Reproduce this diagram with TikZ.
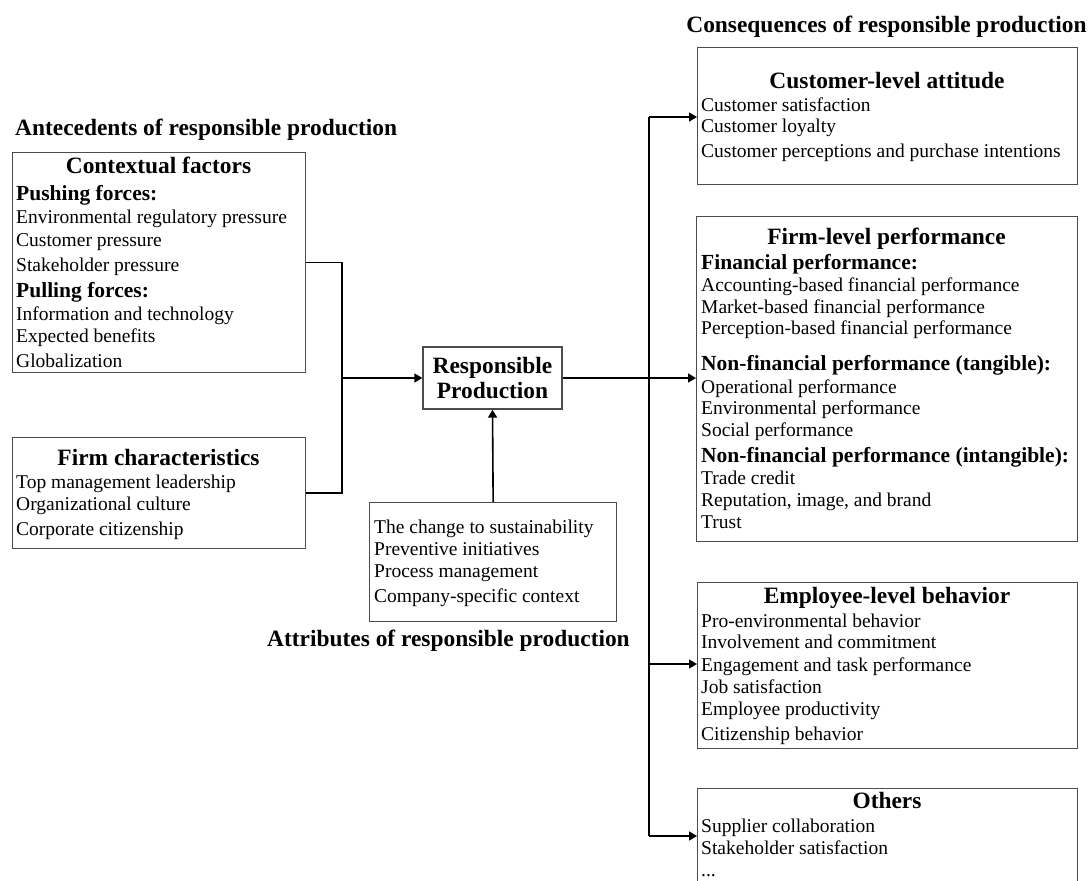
\documentclass[tikz,border=0pt]{standalone}
\usepackage{fontspec}
\setmainfont{Liberation Serif}
\usetikzlibrary{arrows.meta}
\newcommand{\bodyfs}{\fontsize{19.5bp}{23bp}\selectfont}
\newcommand{\subfs}{\fontsize{21.5bp}{25bp}\selectfont\bfseries}
\newcommand{\ttlfs}{\fontsize{23.4bp}{25bp}\selectfont\bfseries}
\begin{document}
\begin{tikzpicture}[x=1bp,y=-1bp,
  boxx/.style={draw=black!70, line width=1.3bp, inner sep=0pt, anchor=north west},
  itm/.style={anchor=base west, inner sep=0pt, font=\bodyfs},
  sub/.style={anchor=base west, inner sep=0pt, font=\subfs},
  ttl/.style={anchor=base, inner sep=0pt, font=\ttlfs},
  conn/.style={line width=1.6bp, draw=black},
  arr/.style={conn, -{Triangle[length=8bp,width=9bp]}}]
\clip (0,0) rectangle (1092,881);
\useasboundingbox (0,0) rectangle (1092,881);

% ---------- section titles ----------
\node[ttl] (hcons) at (886.5,32) {Consequences of responsible production};
\node[ttl, anchor=base west] (hante) at (15,135) {Antecedents of responsible production};
\node[ttl] (hattr) at (448.5,646) {Attributes of responsible production};

% ---------- left boxes ----------
\node[boxx, minimum width=293bp, minimum height=220bp] (ctx) at (12,152) {};
\node[ttl] (ctxT) at (158.5,173) {Contextual factors};
\node[sub] (ctx1) at (16,200) {Pushing forces:};
\node[itm] (ctx2) at (16,223) {Environmental regulatory pressure};
\node[itm] (ctx3) at (16,246) {Customer pressure};
\node[itm] (ctx4) at (16,271) {Stakeholder pressure};
\node[sub] (ctx5) at (16,297) {Pulling forces:};
\node[itm] (ctx6) at (16,320) {Information and technology};
\node[itm] (ctx7) at (16,342) {Expected benefits};
\node[itm] (ctx8) at (16,367) {Globalization};

\node[boxx, minimum width=293bp, minimum height=111bp] (fc) at (12,437) {};
\node[ttl] (fcT) at (158.5,465) {Firm characteristics};
\node[itm] (fc1) at (16,488) {Top management leadership};
\node[itm] (fc2) at (16,510) {Organizational culture};
\node[itm] (fc3) at (16,535) {Corporate citizenship};

% ---------- centre ----------
\node[draw=black!70, line width=1.3bp, inner sep=0pt, minimum width=139bp, minimum height=62bp,
      align=center, font=\ttlfs] (rp) at (492.5,378) {Responsible\\Production};

\node[boxx, minimum width=247bp, minimum height=119bp] (attr) at (369,502) {};
\node[itm] (at1) at (374,533) {The change to sustainability};
\node[itm] (at2) at (374,555) {Preventive initiatives};
\node[itm] (at3) at (374,577) {Process management};
\node[itm] (at4) at (374,602) {Company-specific context};

% ---------- right boxes ----------
\node[boxx, minimum width=380bp, minimum height=137bp] (cust) at (697,47) {};
\node[ttl] (custT) at (887,88) {Customer-level attitude};
\node[itm] (cu1) at (701,111) {Customer satisfaction};
\node[itm] (cu2) at (701,132) {Customer loyalty};
\node[itm] (cu3) at (701,157) {Customer perceptions and purchase intentions};

\node[boxx, minimum width=381bp, minimum height=325bp] (firm) at (696,216) {};
\node[ttl] (firmT) at (886.5,244) {Firm-level performance};
\node[sub] (fi1) at (701,269) {Financial performance:};
\node[itm] (fi2) at (701,291) {Accounting-based financial performance};
\node[itm] (fi3) at (701,313) {Market-based financial performance};
\node[itm] (fi4) at (701,334) {Perception-based financial performance};
\node[sub] (fi5) at (701,370) {Non-financial performance (tangible):};
\node[itm] (fi6) at (701,393) {Operational performance};
\node[itm] (fi7) at (701,414) {Environmental performance};
\node[itm] (fi8) at (701,436) {Social performance};
\node[sub] (fi9) at (701,462) {Non-financial performance (intangible):};
\node[itm] (fi10) at (701,484) {Trade credit};
\node[itm] (fi11) at (701,506) {Reputation, image, and brand};
\node[itm] (fi12) at (701,528) {Trust};

\node[boxx, minimum width=380bp, minimum height=166bp] (emp) at (697,582) {};
\node[ttl] (empT) at (887,603) {Employee-level behavior};
\node[itm] (em1) at (701,627) {Pro-environmental behavior};
\node[itm] (em2) at (701,648) {Involvement and commitment};
\node[itm] (em3) at (701,671) {Engagement and task performance};
\node[itm] (em4) at (701,693) {Job satisfaction};
\node[itm] (em5) at (701,715) {Employee productivity};
\node[itm] (em6) at (701,740) {Citizenship behavior};

\node[boxx, minimum width=380bp, minimum height=140bp] (oth) at (697,788) {};
\node[ttl] (othT) at (887,808) {Others};
\node[itm] (ot1) at (701,832) {Supplier collaboration};
\node[itm] (ot2) at (701,854) {Stakeholder satisfaction};
\node[itm] (ot3) at (701,876) {...};

% ---------- connectors ----------
\coordinate (jl) at (342,378);
\draw[conn] (ctx.east) -| (jl) |- (fc.east);
\draw[arr] (jl) -- (rp.west);
\draw[arr] (attr.north) -- (rp.south);
\draw[arr] (rp.east) -- (rp.east -| firm.west);

\coordinate (tTop) at (649,117);
\coordinate (tEmp) at (649,664);
\coordinate (tBot) at (649,836);
\draw[conn] (tTop) -- (tBot);
\draw[arr] (tTop) -- (tTop -| cust.west);
\draw[arr] (tEmp) -- (tEmp -| emp.west);
\draw[arr] (tBot) -- (tBot -| oth.west);
\end{tikzpicture}
\end{document}
